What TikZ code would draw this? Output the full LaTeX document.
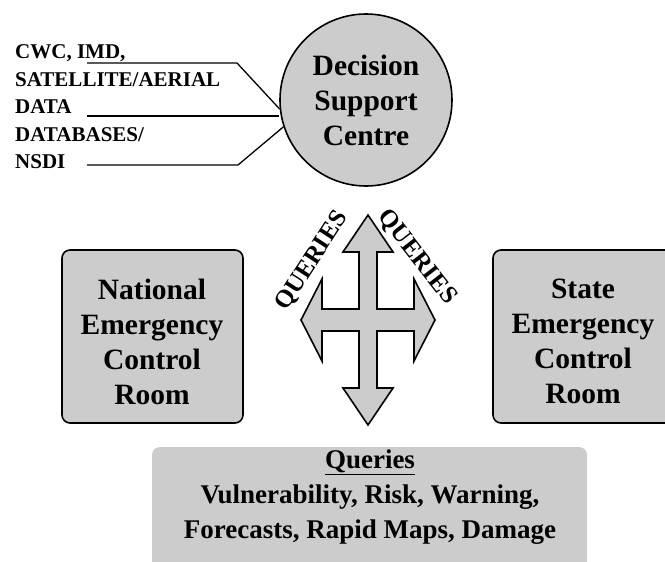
\documentclass[tikz,border=0pt]{standalone}
\usepackage{fontspec}
\setmainfont{Liberation Serif}
\definecolor{panelgray}{gray}{0.8}

\begin{document}
\begin{tikzpicture}[x=1pt,y=-1pt]
    \useasboundingbox (0,0) rectangle (665,562);
    \clip (0,0) rectangle (665,562);
    \begin{scope}[every node/.style={draw=black,line width=1.6pt,fill=panelgray,align=center,inner sep=0pt}]
        \node[circle,minimum size=172pt] (dsc) at (366,100) {};
        \node[rounded corners=8pt,minimum width=181pt,minimum height=173pt] (necr) at (152.5,336.5) {};
        \node[rounded corners=8pt,minimum width=180pt,minimum height=173pt] (secr) at (583,336.5) {};
        \node[draw=none,rounded corners=8pt,minimum width=435pt,minimum height=140pt] (qbox) at (369.5,517) {};
    \end{scope}
    \begin{scope}[every node/.style={align=center,inner sep=0pt,font=\fontsize{29.5}{35}\selectfont\bfseries}]
        \node (dsctext) at (dsc) {Decision\\Support\\Centre};
        \node (necrtext) at (152,342) {National\\Emergency\\Control\\Room};
        \node (secrtext) at (583,341) {State\\Emergency\\Control\\Room};
        \node[font=\fontsize{27}{35}\selectfont\bfseries] (qtext) at (370,497) {\underline{Queries}\\Vulnerability, Risk, Warning,\\Forecasts, Rapid Maps, Damage};
    \end{scope}
    \begin{scope}[every node/.style={inner sep=0pt,font=\fontsize{21}{27.5}\selectfont\bfseries}]
        \node[anchor=west,align=left] (src) at (15,107) {CWC, IMD,\\SATELLITE/AERIAL\\DATA\\DATABASES/\\NSDI};
        \node[rotate=57,font=\fontsize{25}{25}\selectfont\bfseries] (qleft) at (312,261) {QUERIES};
        \node[rotate=-52,font=\fontsize{25}{25}\selectfont\bfseries] (qright) at (417,257) {QUERIES};
    \end{scope}
    \coordinate (in1) at (87,63);
    \coordinate (in2) at (87,116);
    \coordinate (in3) at (87,165);
    \begin{scope}[line width=1.3pt]
        \draw (in1) -- ++(150,0) -- (dsc.186);
        \draw (in2) -- (dsc.west |- in2);
        \draw (in3) -- ++(151,0) -- (dsc.198);
    \end{scope}
    % four way arrow
    \begin{scope}[shift={(368,320)}]
        \draw[line width=1.6pt,fill=panelgray,line join=miter]
            (0,-105) -- (25,-68) -- (9,-68) -- (9,-11) -- (46,-11) -- (46,-41)
            -- (67,0) -- (46,41) -- (46,11) -- (9,11) -- (9,68) -- (25,68)
            -- (0,105) -- (-25,68) -- (-9,68) -- (-9,11) -- (-46,11) -- (-46,41)
            -- (-67,0) -- (-46,-41) -- (-46,-11) -- (-9,-11) -- (-9,-68) -- (-25,-68) -- cycle;
    \end{scope}
\end{tikzpicture}
\end{document}
